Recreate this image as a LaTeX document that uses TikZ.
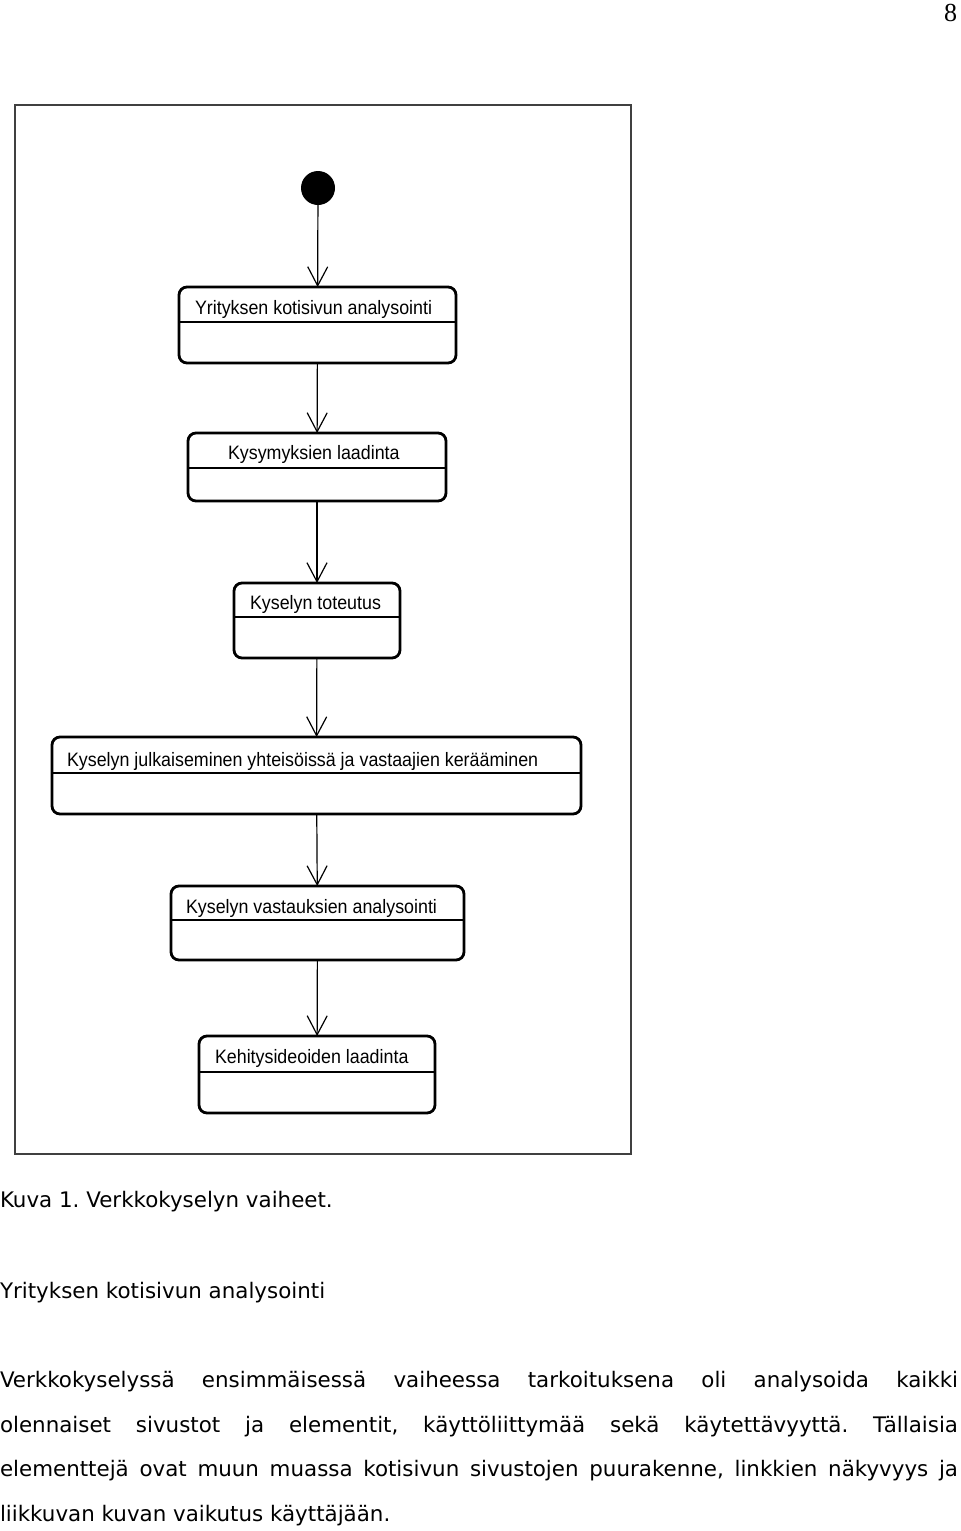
\documentclass[tikz,border=0pt]{standalone}
\usepackage{fontspec}
\setmainfont{DejaVu Sans}
\newfontfamily\laatikkofont[FakeStretch=0.92]{Liberation Sans}
\newfontfamily\sivufont{Liberation Serif}
\usetikzlibrary{arrows.meta,fit}
\frenchspacing

\begin{document}
\begin{tikzpicture}[x=0.5pt, y=-0.5pt,
	every node/.style={inner sep=0pt, outer sep=0pt},
	tila/.style={draw, rectangle, rounded corners=4pt, line width=1.4pt},
	nimi/.style={anchor=base west, font=\laatikkofont\fontsize{9.7}{11}\selectfont},
	siirtyma/.style={line width=0.6pt, -{Straight Barb[length=9.5pt, width=10pt, line width=0.6pt]}},
	leipa/.style={anchor=base west, font=\fontsize{10.7}{13}\selectfont}]
	\useasboundingbox (0,0) rectangle (960,1531);
	\node[anchor=base east, font=\sivufont\fontsize{13}{15}\selectfont] (sivu) at (957,21) {8};
	% kehys
	\draw[line width=0.8pt, black!75] (15,105) rectangle (631,1154);
	\node[circle, fill, minimum size=17pt] (alku) at (318,188) {};
	% tilat
	\foreach \nimi/\vasen/\yla/\oikea/\ala/\jako/\tx/\ty/\teksti in {
		t1/179/287/456/363/322/195/314/Yrityksen kotisivun analysointi,
		t2/188/433/446/501/468/228/459/Kysymyksien laadinta,
		t3/234/583/400/658/617/250/609/Kyselyn toteutus,
		t4/52/737/581/814/773/67/766/Kyselyn julkaiseminen yhteisöissä ja vastaajien kerääminen,
		t5/171/886/464/960/920/186/913/Kyselyn vastauksien analysointi,
		t6/199/1036/435/1113/1072/215/1063/Kehitysideoiden laadinta}
	{
		\node[tila, fit={(\vasen,\yla) (\oikea,\ala)}] (\nimi) {};
		\draw[line width=0.8pt] (\vasen,\jako) -- (\oikea,\jako);
		\node[nimi] (\nimi-nimi) at (\tx,\ty) {\teksti};
	}
	\draw[siirtyma] (alku) -- (t1);
	\foreach \mista/\mihin in {t1/t2, t2/t3, t3/t4, t4/t5, t5/t6}
		\draw[siirtyma] (\mista) -- (\mihin);
	% teksti kuvan alla
	\node[leipa] (kuvateksti) at (0,1207) {Kuva 1. Verkkokyselyn vaiheet.};
	\node[leipa] (otsikko) at (0,1298) {Yrityksen kotisivun analysointi};
	\node[leipa] (rivi1) at (0,1387) {\makebox[479pt][s]{Verkkokyselyssä ensimmäisessä vaiheessa tarkoituksena oli analysoida kaikki}};
	\node[leipa] (rivi2) at (0,1432) {\makebox[479pt][s]{olennaiset sivustot ja elementit, käyttöliittymää sekä käytettävyyttä. Tällaisia}};
	\node[leipa] (rivi3) at (0,1476) {\makebox[479pt][s]{elementtejä ovat muun muassa kotisivun sivustojen puurakenne, linkkien näkyvyys ja}};
	\node[leipa] (rivi4) at (0,1521) {liikkuvan kuvan vaikutus käyttäjään.};
\end{tikzpicture}
\end{document}
